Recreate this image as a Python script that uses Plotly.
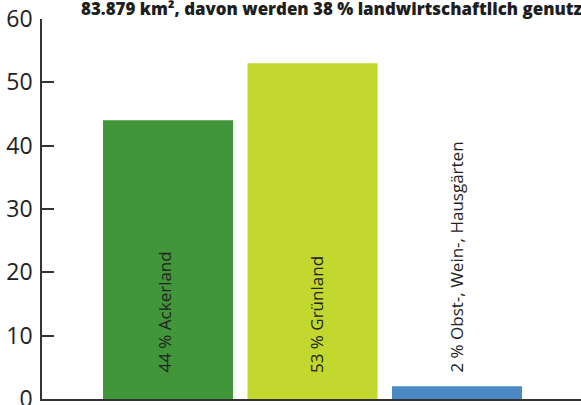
import plotly.graph_objects as go

categories = ["Ackerland", "Grünland", "Obst-, Wein-, Hausgärten"]
values = [44, 53, 2]
labels = ["44 % Ackerland", "53 % Grünland", "2 % Obst-, Wein-, Hausgärten"]
colors = ["#41963a", "#c3d82f", "#4a89c1"]
title_text = "83.879 km², davon werden 38 % landwirtschaftlich genutzt"
y_ticks = [0, 10, 20, 30, 40, 50, 60]

label_xshift = [-4, 4, -1]

fig = go.Figure()
fig.add_trace(go.Bar(
    x=categories, y=values,
    marker=dict(color=colors, line=dict(width=0)),
    hoverinfo="skip",
))

for cat, lab, dx in zip(categories, labels, label_xshift):
    fig.add_annotation(
        x=cat, y=0, xref="x", yref="y",
        text=lab, showarrow=False, textangle=-90,
        xanchor="center", yanchor="bottom", yshift=24, xshift=dx,
        font=dict(family="Open Sans", size=17, color="#222222"),
    )

fig.update_layout(
    width=581, height=405,
    margin=dict(l=42, r=0, t=19, b=6, autoexpand=False),
    paper_bgcolor="white", plot_bgcolor="white",
    bargap=0.1,
    showlegend=False,
    title=dict(
        text=title_text, automargin=False,
        x=81 / 581, xanchor="left", xref="container",
        y=1 - 3 / 405, yanchor="top", yref="container",
        font=dict(family="Open Sans", size=16.9, weight=800, color="#1e1e1e"),
    ),
    xaxis=dict(
        range=[-0.872, 2.858], showticklabels=False, ticks="",
        showline=True, linecolor="#333333", linewidth=2, automargin=False,
        showgrid=False, zeroline=False, fixedrange=True,
    ),
    yaxis=dict(
        range=[0, 60], tickvals=y_ticks, ticks="inside", ticklen=12,
        tickwidth=1.5, tickcolor="#333333", automargin=False,
        showline=True, linecolor="#333333", linewidth=1.5,
        showgrid=False, zeroline=False, ticklabelstandoff=3,
        ticklabeloverflow="allow",
        tickfont=dict(family="Open Sans", size=23, color="#222222"),
    ),
)

fig.write_html("out.html",
               config={"displayModeBar": False},
               post_script="document.body.style.margin='0';")
